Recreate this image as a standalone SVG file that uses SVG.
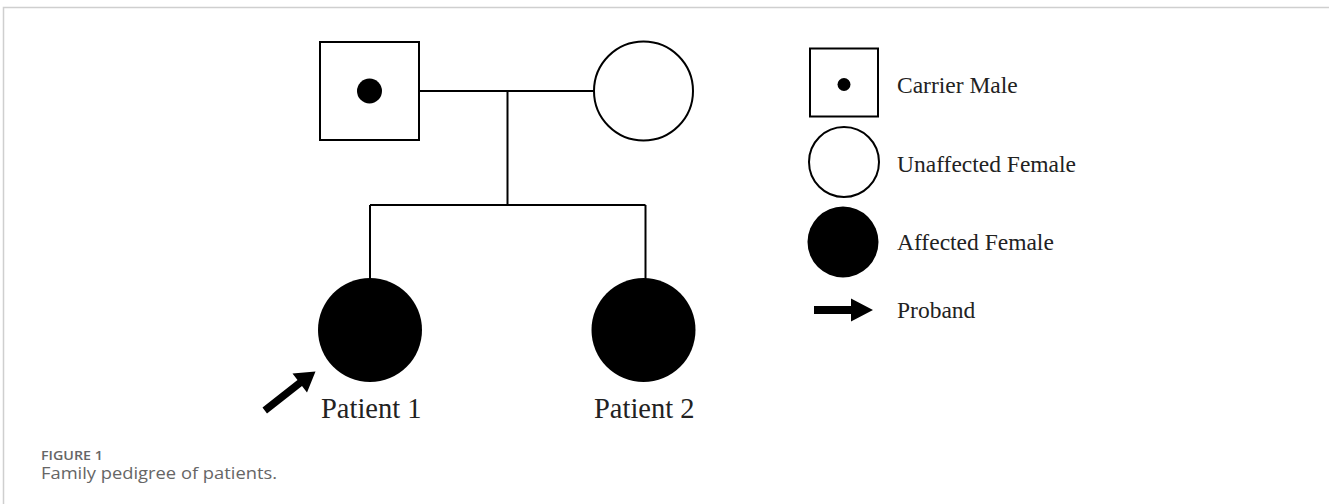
<svg xmlns="http://www.w3.org/2000/svg" width="1329" height="504" viewBox="0 0 1329 504">
  <style>
    .line { stroke: #000; stroke-width: 2; fill: none; }
    .open { fill: #fff; stroke: #000; stroke-width: 2; }
    .solid { fill: #000; stroke: none; }
    .label { font-family: "Liberation Serif", "Times New Roman", serif; fill: #222; }
    .cap-head { font-family: "Open Sans", "Lato", sans-serif; font-weight: 600; font-size: 12.5px; fill: #666; }
    .cap-text { font-family: "Open Sans", "Lato", sans-serif; font-size: 17px; fill: #666; }
  </style>
  <rect width="1329" height="504" fill="#fff"/>
  <!-- figure frame -->
  <path d="M3.5 504 V7.5 H1329" fill="none" stroke="#cfcfcf" stroke-width="1.5"/>

  <!-- connectors -->
  <g id="connectors" class="line">
    <line x1="419" y1="91" x2="594" y2="91"/>
    <line x1="507.5" y1="91" x2="507.5" y2="205"/>
    <line x1="370" y1="205" x2="645.5" y2="205"/>
    <line x1="370" y1="205" x2="370" y2="279"/>
    <line x1="645.5" y1="205" x2="645.5" y2="279"/>
  </g>

  <g id="father">
    <rect class="open" x="320" y="42" width="99" height="98"/>
    <circle class="solid" cx="369.5" cy="91" r="12.5"/>
  </g>

  <g id="mother">
    <circle class="open" cx="643.5" cy="91" r="49.5"/>
  </g>

  <g id="patient1">
    <circle class="solid" cx="370" cy="330" r="52"/>
    <text class="label" x="321" y="418" font-size="28.5">Patient 1</text>
    <!-- proband arrow -->
    <path class="solid" d="M262.5 407.5 L297.5 380 L292.5 373.5 L315.5 371.5 L307 392.5 L302 386 L267 413.5 Z"/>
  </g>

  <g id="patient2">
    <circle class="solid" cx="643.5" cy="330" r="52"/>
    <text class="label" x="594" y="418" font-size="28.5">Patient 2</text>
  </g>

  <g id="legend">
    <rect class="open" x="810" y="48.5" width="68" height="68"/>
    <circle class="solid" cx="844" cy="84.5" r="6.5"/>
    <text class="label" x="897" y="92.5" font-size="23.5">Carrier Male</text>

    <circle class="open" cx="844" cy="162" r="35"/>
    <text class="label" x="897" y="171.5" font-size="23.5">Unaffected Female</text>

    <circle class="solid" cx="843" cy="242" r="35.5"/>
    <text class="label" x="897" y="250" font-size="23.5">Affected Female</text>

    <path class="solid" d="M814 306 H851 V298.5 L873 310 L851 321.5 V314 H814 Z"/>
    <text class="label" x="897" y="318" font-size="23.5">Proband</text>
  </g>

  <g id="caption">
    <text class="cap-head" x="41" y="459.5" textLength="62" lengthAdjust="spacingAndGlyphs">FIGURE 1</text>
    <text class="cap-text" x="41" y="479" textLength="236" lengthAdjust="spacingAndGlyphs">Family pedigree of patients.</text>
  </g>
</svg>
